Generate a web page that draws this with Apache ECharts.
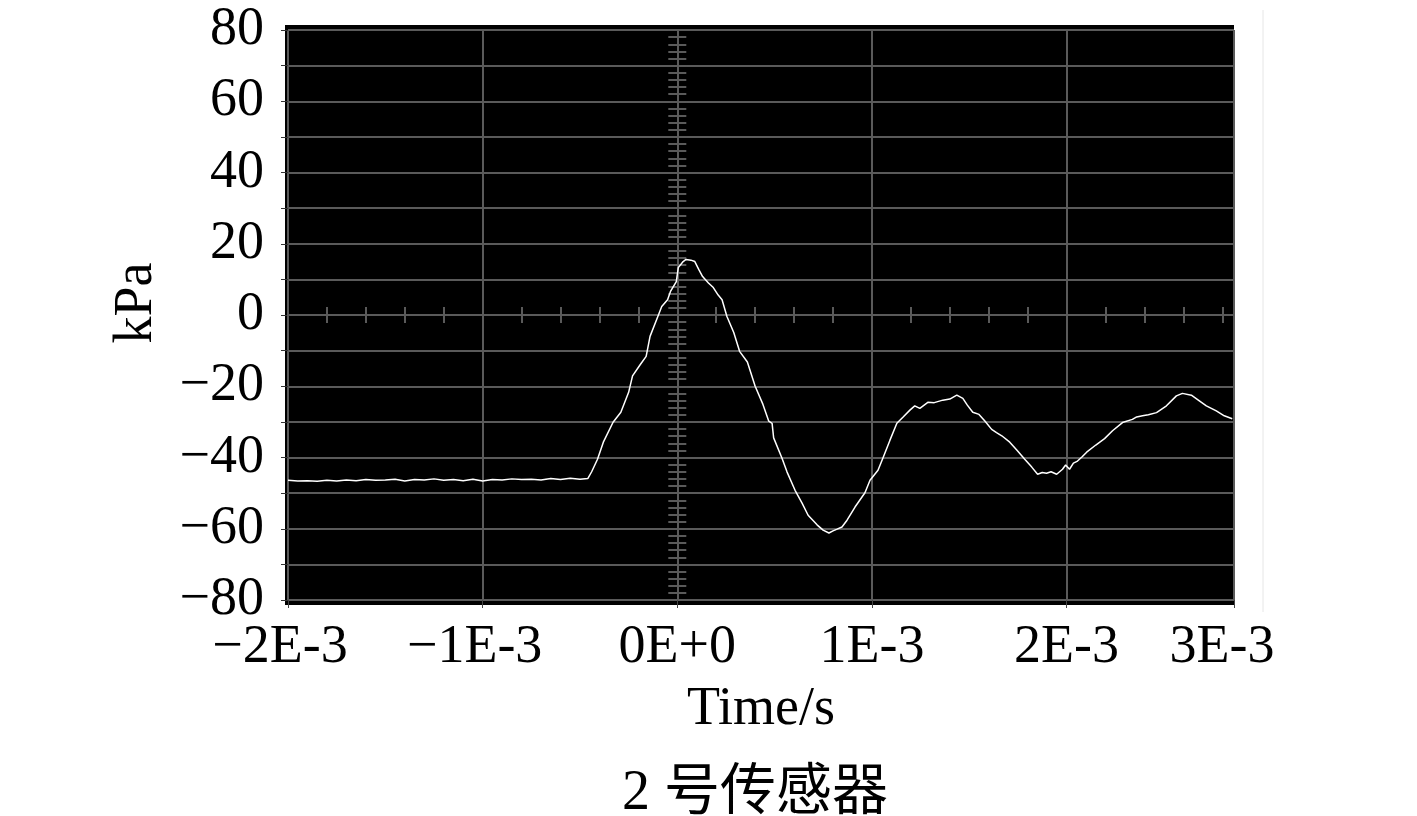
<!DOCTYPE html>
<html>
<head>
<meta charset="utf-8">
<script src="https://cdn.jsdelivr.net/npm/echarts@6/dist/echarts.min.js"></script>
<style>
  html, body { margin: 0; padding: 0; background: #fff; }
  #chart { width: 1417px; height: 816px; }
</style>
</head>
<body>
<div id="chart"></div>
<script>
// time in ms (axis shows it as E-3 s), pressure in kPa
const timeMs = [
  -2.00, -1.95, -1.90, -1.85, -1.80, -1.75, -1.70, -1.65, -1.60, -1.55,
  -1.50, -1.45, -1.40, -1.35, -1.30, -1.25, -1.20, -1.15, -1.10, -1.05,
  -1.00, -0.95, -0.90, -0.85, -0.80, -0.75, -0.70, -0.65, -0.60, -0.55,
  -0.50, -0.46, -0.44, -0.41, -0.38, -0.33, -0.29, -0.25, -0.23, -0.19,
  -0.16, -0.14, -0.10, -0.08, -0.05, -0.035, -0.005, 0.005, 0.03, 0.045,
  0.07, 0.09, 0.11, 0.13, 0.16, 0.185, 0.21, 0.23, 0.255, 0.29,
  0.32, 0.36, 0.40, 0.44, 0.47, 0.487, 0.495, 0.538, 0.564, 0.605,
  0.641, 0.672, 0.718, 0.749, 0.779, 0.80, 0.821, 0.846, 0.872, 0.913,
  0.964, 0.990, 1.031, 1.056, 1.092, 1.128, 1.159, 1.195, 1.22, 1.246,
  1.287, 1.32, 1.364, 1.40, 1.436, 1.467, 1.49, 1.518, 1.55, 1.579,
  1.615, 1.64, 1.667, 1.708, 1.744, 1.785, 1.821, 1.851, 1.875, 1.897,
  1.92, 1.949, 1.979, 1.995, 2.015, 2.035, 2.056, 2.08, 2.103, 2.15,
  2.195, 2.236, 2.287, 2.338, 2.36, 2.39, 2.42, 2.462, 2.513, 2.564,
  2.595, 2.641, 2.682, 2.718, 2.769, 2.81, 2.851
]
const pressure = [
  -46.4, -46.6, -46.5, -46.7, -46.4, -46.6, -46.3, -46.5, -46.2, -46.4,
  -46.3, -46.1, -46.6, -46.2, -46.3, -46.0, -46.4, -46.2, -46.5, -46.1,
  -46.6, -46.2, -46.3, -46.0, -46.2, -46.1, -46.3, -45.9, -46.2, -45.8,
  -46.1, -45.9, -44.0, -40.5, -35.7, -30.1, -27.3, -21.7, -17.1, -13.9,
  -11.6, -6.0, -0.4, 2.4, 4.3, 6.6, 9.4, 13.3, 15.0, 15.6,
  15.4, 15.0, 12.8, 10.8, 9.0, 7.7, 5.6, 4.3, -0.4, -4.9,
  -10.2, -13.2, -20.0, -25.1, -29.8, -30.4, -34.5, -40.2, -44.1, -49.2,
  -52.8, -56.2, -58.9, -60.4, -61.2, -60.6, -60.1, -59.5, -57.6, -53.9,
  -49.9, -46.4, -43.6, -40.2, -35.2, -30.4, -28.7, -26.7, -25.5, -26.2,
  -24.5, -24.6, -23.9, -23.6, -22.5, -23.4, -25.3, -27.3, -27.9, -29.7,
  -32.1, -33.0, -33.9, -35.7, -37.9, -40.5, -42.7, -44.7, -44.2, -44.4,
  -44.0, -44.7, -43.3, -42.1, -43.3, -41.6, -41.0, -39.8, -38.5, -36.5,
  -34.7, -32.5, -30.2, -29.3, -28.6, -28.3, -28.0, -27.4, -25.5, -22.7,
  -22.0, -22.5, -24.1, -25.5, -26.9, -28.3, -29.1
]

// crosshair ticks on the zero line, every 0.2E-3
const crossTicksX = [
  -2.0, -1.8, -1.6, -1.4, -1.2, -1.0, -0.8, -0.6, -0.4, -0.2,
  0, 0.2, 0.4, 0.6, 0.8, 1.0, 1.2, 1.4, 1.6, 1.8, 2.0, 2.2, 2.4, 2.6, 2.8
]
const xMin = -2
const xMax = 2.86
const xLastLabel = '3E-3'

const serif = '"Liberation Serif", "Times New Roman", serif'
const gridColor = '#5a5a5a'

function xLabel(v) {
  if (Math.abs(v - xMax) < 1e-6) return '{last|' + xLastLabel + '}'
  if (v === 0) return '0E+0'
  if (v < 0) return '{neg|\u2212' + Math.round(-v) + 'E-3}'
  return Math.round(v) + 'E-3'
}

function yLabel(v) {
  if (v % 20 !== 0) return ''
  return v < 0 ? '\u2212' + (-v) : String(v)
}

var chart = echarts.init(document.getElementById('chart'))

var option = {
  backgroundColor: '#fff',
  animation: false,
  title: {
    text: '2 号传感器',
    left: 750,
    textAlign: 'center',
    top: 761,
    textStyle: {
      fontFamily: '"Liberation Serif", "Noto Sans CJK SC", serif',
      fontSize: 56,
      fontWeight: 'normal',
      color: '#000'
    }
  },
  graphic: [
    {
      type: 'rect',
      z: -10,
      shape: { x: 285, y: 25, width: 949, height: 580 },
      style: { fill: '#000' }
    },
    {
      type: 'line',
      z: -10,
      shape: { x1: 1263, y1: 10, x2: 1263, y2: 612 },
      style: { stroke: '#e6e6e6', lineWidth: 1 }
    }
  ],
  grid: {
    left: 288,
    right: 183,
    top: 30,
    bottom: 216,
    containLabel: false,
    outerBoundsMode: 'none'
  },
  xAxis: [
    {
      type: 'value',
      min: xMin,
      max: xMax,
      interval: 1,
      position: 'bottom',
      axisLine: { show: false, onZero: false },
      axisTick: { show: true, inside: false, length: 8, lineStyle: { color: '#444', width: 1 } },
      axisLabel: {
        formatter: xLabel,
        fontFamily: serif,
        fontSize: 54,
        color: '#000',
        margin: 21,
        showMinLabel: true,
        showMaxLabel: true,
        rich: {
          last: { fontFamily: serif, fontSize: 54, color: '#000', padding: [0, 24, 0, 0] },
          neg: { fontFamily: serif, fontSize: 54, color: '#000', padding: [0, 16, 0, 0] }
        }
      },
      splitLine: { show: true, lineStyle: { color: gridColor, width: 2 } },
      name: 'Time/s',
      nameLocation: 'middle',
      nameGap: 83,
      nameTextStyle: { fontFamily: serif, fontSize: 54, color: '#000' }
    },
    {
      type: 'value',
      min: xMin,
      max: xMax,
      position: 'bottom',
      axisLine: { show: true, onZero: true, onZeroAxisIndex: 0, lineStyle: { color: gridColor, width: 2 } },
      axisTick: { show: true, inside: true, length: 8, customValues: crossTicksX, lineStyle: { color: gridColor, width: 2 } },
      axisLabel: { show: false },
      splitLine: { show: false }
    },
    {
      type: 'value',
      min: xMin,
      max: xMax,
      position: 'bottom',
      axisLine: { show: false, onZero: true, onZeroAxisIndex: 0 },
      axisTick: { show: true, inside: false, length: 8, customValues: crossTicksX, lineStyle: { color: gridColor, width: 2 } },
      axisLabel: { show: false },
      splitLine: { show: false }
    }
  ],
  yAxis: [
    {
      type: 'value',
      min: -80,
      max: 80,
      interval: 10,
      position: 'left',
      axisLine: { show: false, onZero: false },
      axisTick: { show: true, inside: false, length: 7, lineStyle: { color: '#333', width: 1 } },
      axisLabel: {
        formatter: yLabel,
        fontFamily: serif,
        fontSize: 54,
        color: '#000',
        margin: 24
      },
      splitLine: { show: true, lineStyle: { color: gridColor, width: 2 } },
      name: 'kPa',
      nameLocation: 'middle',
      nameRotate: 90,
      nameGap: 124,
      nameTextStyle: { fontFamily: serif, fontSize: 54, color: '#000', padding: [0, 0, 0, 24] }
    },
    {
      type: 'value',
      min: -80,
      max: 80,
      interval: 2,
      position: 'left',
      axisLine: { show: false, onZero: true, onZeroAxisIndex: 0 },
      axisTick: { show: true, inside: true, length: 9, lineStyle: { color: gridColor, width: 2 } },
      axisLabel: { show: false },
      splitLine: { show: false }
    },
    {
      type: 'value',
      min: -80,
      max: 80,
      interval: 2,
      position: 'left',
      axisLine: { show: false, onZero: true, onZeroAxisIndex: 0 },
      axisTick: { show: true, inside: false, length: 9, lineStyle: { color: gridColor, width: 2 } },
      axisLabel: { show: false },
      splitLine: { show: false }
    }
  ],
  series: [
    {
      type: 'line',
      xAxisIndex: 0,
      yAxisIndex: 0,
      data: timeMs.map((t, i) => [t, pressure[i]]),
      showSymbol: false,
      symbol: 'none',
      z: 10,
      lineStyle: { color: '#fff', width: 1.5 }
    }
  ]
}

chart.setOption(option)
</script>
</body>
</html>
